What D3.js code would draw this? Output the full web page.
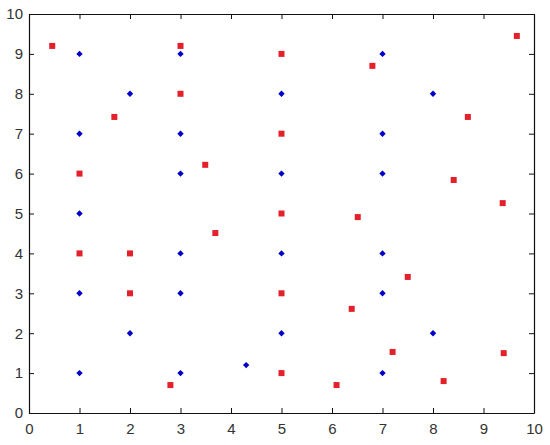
<!DOCTYPE html>
<html>
<head>
<meta charset="utf-8">
<script src="https://cdn.jsdelivr.net/npm/d3@7"></script>
<style>
  body { margin: 0; background: #fff; }
  .axis text { font-family: "Liberation Sans", Arial, sans-serif; font-size: 15px; fill: #333; }
  .axis path, .axis line { stroke: #111; }
</style>
</head>
<body>
<svg id="chart"></svg>
<script>
// Blue diamonds
const blueX = [1, 3, 7, 2, 5, 8, 1, 3, 7, 3, 5, 7, 1, 3, 5, 7, 1, 3, 7, 2, 5, 8, 1, 3, 4.3, 7];
const blueY = [9, 9, 9, 8, 8, 8, 7, 7, 7, 6, 6, 6, 5, 4, 4, 4, 3, 3, 3, 2, 2, 2, 1, 1, 1.2, 1];

// Red squares
const redX = [0.46, 3, 5, 6.8, 9.66, 3, 1.69, 5, 8.69, 3.49, 1, 8.41, 5, 6.51, 9.38, 1, 2, 3.69, 5, 2, 7.5, 6.39, 7.2, 9.4, 8.21, 5, 6.09, 2.8];
const redY = [9.2, 9.2, 9, 8.7, 9.45, 8, 7.42, 7, 7.42, 6.22, 6, 5.84, 5, 4.91, 5.26, 4, 4, 4.51, 3, 3, 3.41, 2.61, 1.53, 1.5, 0.8, 1, 0.7, 0.7];

const ticks = [0, 1, 2, 3, 4, 5, 6, 7, 8, 9, 10];

const width = 550, height = 445;
const marginLeft = 29, marginRight = 16, marginTop = 14, marginBottom = 32;

const x = d3.scaleLinear().domain([0, 10]).range([marginLeft, width - marginRight]);
const y = d3.scaleLinear().domain([0, 10]).range([height - marginBottom, marginTop]);

const svg = d3.select('#chart').attr('width', width).attr('height', height);

// Box axes, ticks pointing inward.
svg.append('g')
    .attr('class', 'axis')
    .attr('transform', `translate(0, ${height - marginBottom})`)
    .call(d3.axisBottom(x).tickValues(ticks).tickSizeInner(-5).tickSizeOuter(0).tickPadding(10));

svg.append('g')
    .attr('class', 'axis')
    .attr('transform', `translate(${marginLeft}, 0)`)
    .call(d3.axisLeft(y).tickValues(ticks).tickSizeInner(-5).tickSizeOuter(0).tickPadding(6));

svg.append('g')
    .attr('class', 'axis')
    .attr('transform', `translate(0, ${marginTop})`)
    .call(d3.axisTop(x).tickValues(ticks).tickSizeInner(-5).tickSizeOuter(0).tickFormat(''));

svg.append('g')
    .attr('class', 'axis')
    .attr('transform', `translate(${width - marginRight}, 0)`)
    .call(d3.axisRight(y).tickValues(ticks).tickSizeInner(-5).tickSizeOuter(0).tickFormat(''));

svg.selectAll('.axis path').attr('stroke-width', 1.2);

// Blue diamonds.
svg.append('g')
    .selectAll('path')
    .data(blueX.map((v, i) => [v, blueY[i]]))
    .enter()
    .append('path')
    .attr('d', 'M0,-3.2 L3.2,0 L0,3.2 L-3.2,0 Z')
    .attr('transform', d => `translate(${x(d[0])}, ${y(d[1])})`)
    .attr('fill', '#0000c8');

// Red squares.
svg.append('g')
    .selectAll('rect')
    .data(redX.map((v, i) => [v, redY[i]]))
    .enter()
    .append('rect')
    .attr('x', d => x(d[0]) - 3)
    .attr('y', d => y(d[1]) - 3)
    .attr('width', 6)
    .attr('height', 6)
    .attr('fill', '#e4202a');
</script>
</body>
</html>
